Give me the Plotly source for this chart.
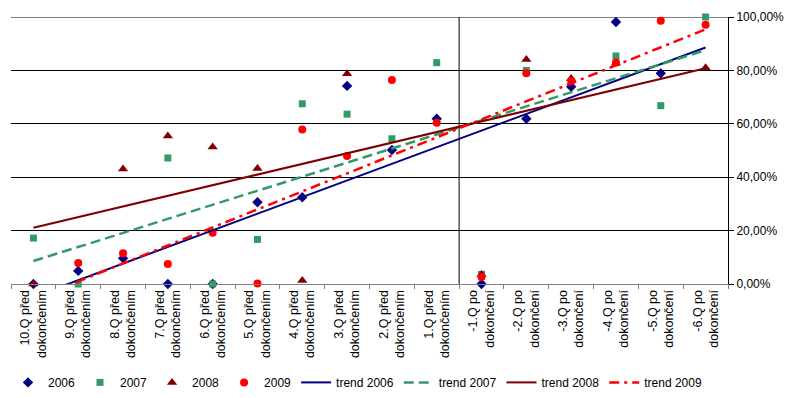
import plotly.graph_objects as go

categories = [
    "10.Q před<br>dokončením", "9.Q před<br>dokončením", "8.Q před<br>dokončením",
    "7.Q před<br>dokončením", "6.Q před<br>dokončením", "5.Q před<br>dokončením",
    "4.Q před<br>dokončením", "3.Q před<br>dokončením", "2.Q před<br>dokončením",
    "1.Q před<br>dokončením", "-1.Q po<br>dokončení", "-2.Q po<br>dokončení",
    "-3.Q po<br>dokončení", "-4.Q po<br>dokončení", "-5.Q po<br>dokončení",
    "-6.Q po<br>dokončení",
]

# values in percent (None = no value)
v2006 = [0, 4.9, 9.6, 0, 0, 30.6, 32.5, 74.2, 50.2, 61.9, 0, 61.9, 73.9, 98.1, 78.9, None]
v2007 = [17.2, 0, None, 47.2, 0, 16.7, 67.5, 63.6, 54.4, 82.9, 3.6, 80.0, None, 85.4, 66.8, 100]
v2008 = [0, None, 43.1, 55.4, 51.3, 43.3, 1.3, 78.7, None, None, 3.6, 84.1, 77.0, 82.7, None, 81.0]
v2009 = [None, 7.9, 11.5, 7.5, 19.2, 0.2, 57.9, 47.9, 76.4, 60.4, 2.6, 78.9, 76.0, 83.0, 98.6, 97.1]

# linear trend lines: value at first and last category (percent)
trend2006 = [-4.8, 88.6]
trend2007 = [8.6, 87.6]
trend2008 = [21.1, 80.8]
trend2009 = [-5.8, 95.4]

y_ticks = [0, 20, 40, 60, 80, 100]


def frac(vals):
    return [None if v is None else v / 100 for v in vals]


fig = go.Figure()

marker_series = [
    ("2006", v2006, "#000080", "diamond", 8),
    ("2007", v2007, "#339966", "square", 7),
    ("2008", v2008, "#800000", "triangle-up", 9),
    ("2009", v2009, "#FF0000", "circle", 8),
]
for name, vals, col, sym, size in marker_series:
    fig.add_trace(go.Scatter(
        x=categories, y=frac(vals), mode="markers", name=name,
        marker=dict(color=col, symbol=sym, size=size, line=dict(width=0)),
        cliponaxis=False,
    ))

trend_series = [
    ("trend 2006", trend2006, "#000080", "solid", 2),
    ("trend 2007", trend2007, "#339966", "10px,5px", 2.5),
    ("trend 2008", trend2008, "#800000", "solid", 2),
    ("trend 2009", trend2009, "#FF0000", "10px,5px,3px,5px", 2.5),
]
for name, vals, col, dash, w in trend_series:
    fig.add_trace(go.Scatter(
        x=[categories[0], categories[-1]], y=frac(vals), mode="lines", name=name,
        line=dict(color=col, dash=dash, width=w),
    ))

# vertical separator between "before" and "after"
fig.add_shape(type="line", xref="x", yref="paper", x0=9.5, x1=9.5, y0=0, y1=1,
              line=dict(color="black", width=1), layer="below")
# top gridline (100 %), which plotly omits at the plot edge
fig.add_shape(type="line", xref="paper", yref="y", x0=0, x1=1, y0=1, y1=1,
              line=dict(color="black", width=1), layer="below")

legend_font = dict(family="Liberation Sans Narrow, Arial Narrow, Liberation Sans, Arial",
                   size=12, color="black")

# the page adds an 8 px body margin, so the figure is 8 px smaller than the window
fig.update_layout(
    width=784, height=390,
    margin=dict(l=3, r=64, t=9, b=114, autoexpand=False),
    paper_bgcolor="white", plot_bgcolor="white",
    separators=", ",
    font=dict(family="Liberation Sans, Arial", size=12, color="black"),
    showlegend=True,
    legend=dict(orientation="h", xref="container", yref="container",
                x=0.0, xanchor="left", y=0.04, yanchor="middle",
                font=legend_font, bgcolor="rgba(0,0,0,0)", itemclick=False),
    xaxis=dict(
        type="category", categoryorder="array", categoryarray=categories,
        range=[-0.5, len(categories) - 0.5], automargin=False,
        showgrid=False, zeroline=False,
        showline=True, linecolor="#808080", linewidth=1,
        ticks="outside", tickson="boundaries", ticklen=4, tickcolor="#808080",
        tickangle=-90, tickfont=dict(size=12.5),
    ),
    yaxis=dict(
        side="right", range=[0, 1], automargin=False,
        tickvals=[t / 100 for t in y_ticks], tickformat=".2%",
        showgrid=True, gridcolor="#000000", gridwidth=1,
        zeroline=False,
        showline=True, linecolor="black", linewidth=1,
        ticks="outside", ticklen=5, tickcolor="black",
        tickfont=dict(size=12),
    ),
)

fig.write_html("out.html")
